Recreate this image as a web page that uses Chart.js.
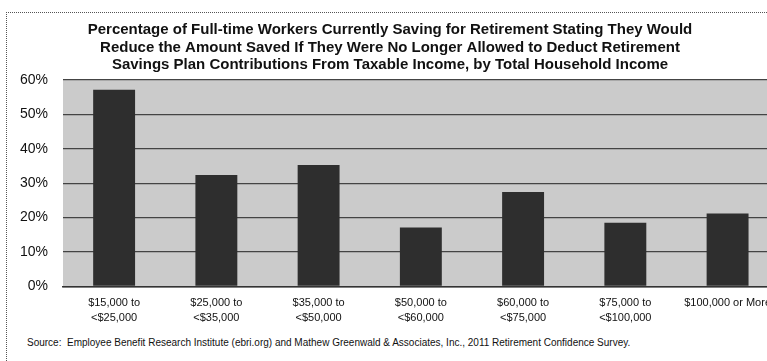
<!DOCTYPE html>
<html>
<head>
<meta charset="utf-8">
<title>Retirement savings deduction survey</title>
<script src="https://cdn.jsdelivr.net/npm/chart.js@4.4.1/dist/chart.umd.min.js"></script>
<style>
  html, body { margin: 0; padding: 0; background: #fff; overflow: hidden; }
  #wrap { position: relative; width: 767px; height: 361px; overflow: hidden; }
  #frame {
    position: absolute; left: 6px; top: 12px; width: 900px; height: 400px;
    border-top: 1px dotted #555; border-left: 1px dotted #555;
  }
  #box { position: absolute; left: 0; top: 0; width: 780px; height: 334px; }
  #source {
    position: absolute; left: 27px; top: 337px; white-space: nowrap;
    font: 10px "Liberation Sans", Arial, sans-serif; color: #111;
  }
</style>
</head>
<body>
<div id="wrap">
  <div id="frame"></div>
  <div id="box"><canvas id="grafico"></canvas></div>
  <div id="source">Source:&nbsp; Employee Benefit Research Institute (ebri.org) and Mathew Greenwald &amp; Associates, Inc., 2011 Retirement Confidence Survey.</div>
</div>
<script>
// Faixas de renda domiciliar (eixo X)
const incomeLabels = [
  ['$15,000 to', '<$25,000'],
  ['$25,000 to', '<$35,000'],
  ['$35,000 to', '<$50,000'],
  ['$50,000 to', '<$60,000'],
  ['$60,000 to', '<$75,000'],
  ['$75,000 to', '<$100,000'],
  '$100,000 or More'
];

// Percentual que reduziria a poupança
const pctValues = [57.2, 32.4, 35.3, 17.1, 27.4, 18.5, 21.2];

// Escala do eixo Y
const yMin = 0;
const yMax = 60;
const yStep = 10;

const titleLines = [
  'Percentage of Full-time Workers Currently Saving for Retirement Stating They Would',
  'Reduce the Amount Saved If They Were No Longer Allowed to Deduct Retirement',
  'Savings Plan Contributions From Taxable Income, by Total Household Income'
];

// Fundo cinza só dentro da área do gráfico
const plotBg = {
  id: 'plotBg',
  beforeDraw(chart) {
    const { ctx, chartArea: a } = chart;
    ctx.save();
    ctx.fillStyle = '#cbcbcb';
    ctx.fillRect(a.left, a.top, a.right - a.left, a.bottom - a.top);
    ctx.restore();
  }
};

const ctx = document.getElementById('grafico');
const barChart = new Chart(ctx, {
  type: 'bar',
  data: {
    labels: incomeLabels,
    datasets: [{
      data: pctValues,
      backgroundColor: '#2e2e2e',
      borderWidth: 0,
      categoryPercentage: 1,
      barPercentage: 0.41
    }]
  },
  options: {
    responsive: true,
    maintainAspectRatio: false,
    animation: false,
    layout: { padding: 0 },
    plugins: {
      legend: { display: false },
      tooltip: { enabled: false },
      title: {
        display: true,
        text: titleLines,
        color: '#111',
        font: { family: '"Liberation Sans", Arial, sans-serif', size: 15, weight: 'bold', lineHeight: 1.1667 },
        padding: { top: 21.25, bottom: 6.25 }
      }
    },
    scales: {
      x: {
        grid: { display: false, drawTicks: false },
        border: { display: true, color: '#333', width: 1.5 },
        ticks: {
          color: '#111',
          font: { family: '"Liberation Sans", Arial, sans-serif', size: 11, lineHeight: 1.35 },
          padding: 9,
          maxRotation: 0,
          autoSkip: false
        }
      },
      y: {
        min: yMin,
        max: yMax,
        grid: { color: '#444', lineWidth: 1.3, drawTicks: false },
        border: { display: false },
        ticks: {
          stepSize: yStep,
          color: '#111',
          font: { family: '"Liberation Sans", Arial, sans-serif', size: 14 },
          padding: 15,
          callback: v => v + '%'
        },
        afterFit(scale) { scale.width = 63; }
      }
    }
  },
  plugins: [plotBg]
});
</script>
</body>
</html>
